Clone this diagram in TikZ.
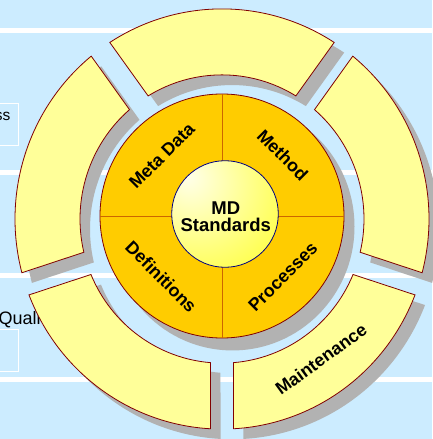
\documentclass[tikz,border=0pt]{standalone}
\usepackage{fontspec}
\setmainfont{Liberation Sans}
\newfontfamily\labfont{Liberation Sans}
\definecolor{bgblue}{RGB}{204,236,255}
\definecolor{segfill}{RGB}{255,255,153}
\definecolor{orangefill}{RGB}{255,204,0}
\definecolor{shadowc}{RGB}{178,178,178}
\definecolor{edgered}{RGB}{128,0,0}
\definecolor{divider}{RGB}{204,102,0}
\definecolor{navyedge}{RGB}{0,0,128}
\definecolor{hl}{RGB}{255,255,235}
\pgfdeclareradialshading{mdball}{\pgfpoint{-18bp}{18bp}}{color(0bp)=(hl); color(62bp)=(yellow); color(100bp)=(yellow)}
\tikzset{
  ringseg/.style={insert path={(#1-32.82:207) arc[start angle=#1-32.82, end angle=#1+32.82, radius=207] -- (#1+31.35:142) arc[start angle=#1+31.35, end angle=#1-31.35, radius=142] -- cycle}},
  lab/.style={font=\labfont\fontsize{17.8}{20}\selectfont\bfseries, text=black, inner sep=0pt},
  bgtext/.style={font=\labfont\fontsize{18}{20}\selectfont, text=black, inner sep=0pt},
  whiteline/.style={fill=white},
  whitebox/.style={draw=white, line width=1pt},
}
\begin{document}
\begin{tikzpicture}[x=1pt,y=1pt]
\useasboundingbox (-222,-220) rectangle (210,219);
\fill[bgblue] (-222,-220) rectangle (210,219);
% background stripes
\fill[whiteline] (-222,185.7) rectangle (210,190.7);
\fill[whiteline] (-222,44) rectangle (210,49);
\fill[whiteline] (-222,-58.7) rectangle (210,-53.7);
\fill[whiteline] (-222,-162.7) rectangle (210,-157.7);
% background boxes and texts
\draw[whitebox] (-235,115.7) rectangle (-203.7,73);
\draw[whitebox] (-235,-110.3) rectangle (-203.7,-152.7);
\node[bgtext, font=\labfont\fontsize{15.5}{18}\selectfont, anchor=base east] (ss) at (-211.5,98.3) {ss};
\node[bgtext, anchor=base west] (quali) at (-223.5,-105.3) {Quali};
% outer ring
\begin{scope}[yscale=1.015]
  \begin{scope}[shift={(10,-10)}]
    \foreach \a in {90,18,-54,-126,162} { \fill[shadowc, ringseg=\a]; }
  \end{scope}
  \fill[shadowc] (10.5,-7.5) circle[radius=122];
  \foreach \a in {90,18,-54,-126,162} { \filldraw[fill=segfill, draw=edgered, line width=0.8pt, ringseg=\a]; }
\end{scope}
% orange disk
\filldraw[fill=orangefill, draw=edgered, line width=0.8pt] (0,3) circle[radius=122];
\draw[divider, line width=1pt] (0,125) -- (0,-119);
\draw[divider, line width=1pt] (-122,3) -- (122,3);
% centre circle
\shade[shading=mdball] (3,5) circle[radius=53.3];
\draw[navyedge, line width=0.8pt] (3,5) circle[radius=53.3];
\node[font=\labfont\fontsize{18.5}{16.7}\selectfont\bfseries, align=center, inner sep=0pt] (md) at (3.8,2.5) {MD\\Standards};
% quadrant labels
\node[lab, rotate=45] (meta) at ([shift={(0,3)}]135:85) {Meta Data};
\node[lab, rotate=-45] (method) at ([shift={(0,3)}]45:86) {Method};
\node[lab, rotate=-45] (defs) at ([shift={(0,3)}]225:86) {Definitions};
\node[lab, rotate=45] (procs) at ([shift={(0,3)}]-45:86) {Processes};
\node[lab, rotate=36] (maint) at (99,-140) {Maintenance};
\end{tikzpicture}
\end{document}
